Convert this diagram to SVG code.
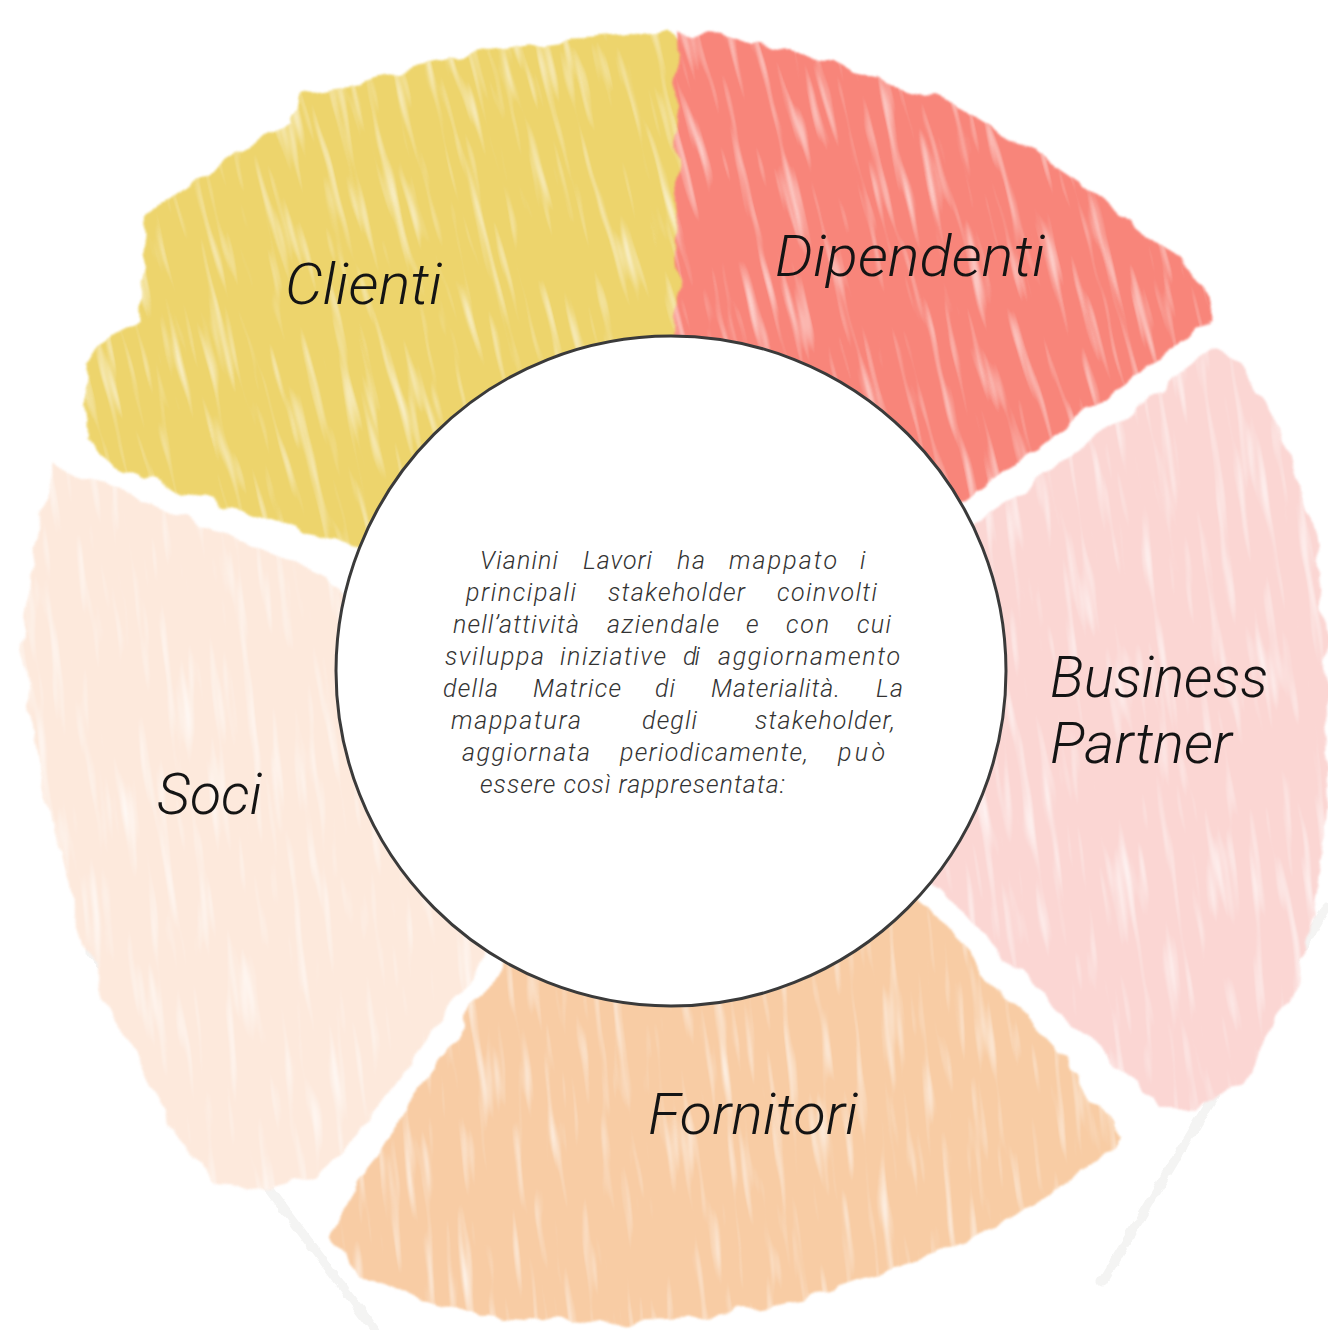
<svg xmlns="http://www.w3.org/2000/svg" width="1328" height="1330" viewBox="0 0 1328 1330">
<defs>
<filter id="crayon" x="-15%" y="-15%" width="130%" height="130%" color-interpolation-filters="sRGB">
  <feTurbulence type="fractalNoise" baseFrequency="0.035" numOctaves="2" seed="2" result="warp"/>
  <feDisplacementMap in="SourceGraphic" in2="warp" scale="18" xChannelSelector="R" yChannelSelector="G" result="r0"/>
  <feGaussianBlur in="r0" stdDeviation="0.9" result="rough"/>
  <feTurbulence type="fractalNoise" baseFrequency="0.09 0.01" numOctaves="2" seed="5" result="streak"/>
  <feColorMatrix in="streak" type="matrix" values="0 0 0 0 1  0 0 0 0 1  0 0 0 0 1  -1.9 0 0 0 0.86" result="light"/>
  <feComposite in="light" in2="rough" operator="in" result="lightIn"/>
  <feMerge><feMergeNode in="rough"/><feMergeNode in="lightIn"/></feMerge>
</filter>
<filter id="rough" x="-10%" y="-10%" width="120%" height="120%">
  <feTurbulence type="fractalNoise" baseFrequency="0.08" numOctaves="2" seed="7" result="w"/>
  <feDisplacementMap in="SourceGraphic" in2="w" scale="8" xChannelSelector="R" yChannelSelector="G"/>
</filter>
</defs>
<style>
.seg{filter:url(#crayon)}
.label{font-family:Roboto,"Liberation Sans",sans-serif;font-weight:300;font-style:italic;font-size:58px;fill:#141414}
.body{font-family:Roboto,"Liberation Sans",sans-serif;font-weight:300;font-style:italic;font-size:25px;fill:#333}
.edge{fill:none;stroke:#f4f4f3;stroke-width:9;stroke-linecap:round;filter:url(#rough)}
</style>
<rect width="1328" height="1330" fill="#fff"/>
<path class="edge" d="M90,950 L375,1330"/>
<path class="edge" d="M1326,908 L1102,1282"/>

<g id="clienti">
<g class="seg" transform="rotate(-14 671 671)"><path transform="rotate(14 671 671)" fill="#edd46c" d="M85,360 L100,345 L140,320 L148,215 L190,185 L235,150 L290,125 L300,95 L360,85 L420,65 L490,50 L560,40 L620,35 L668,30 L681,40 L681,671 L671,671 L358,548 L300,528 L240,510 L175,490 L120,470 L88,440 Z"/></g>
<text class="label" x="285" y="304" textLength="157" lengthAdjust="spacingAndGlyphs">Clienti</text>
</g>

<g id="dipendenti">
<g class="seg" transform="rotate(-14 671 671)"><path transform="rotate(14 671 671)" fill="#f8857a" d="M677,30 L720,35 L800,52 L880,78 L960,108 L1040,155 L1100,195 L1160,245 L1205,285 L1212,318 L1150,365 L1080,415 L1030,455 L968,500 L671,671 L679,671 Z"/></g>
<text class="label" x="775" y="276" textLength="270" lengthAdjust="spacingAndGlyphs">Dipendenti</text>
</g>

<g id="business-partner">
<g class="seg" transform="rotate(-8 671 671)"><path transform="rotate(8 671 671)" fill="#fbd6d3" d="M988,518 L1050,472 L1120,422 L1180,377 L1215,347 L1255,382 L1290,452 L1315,540 L1326,640 L1328,760 L1322,860 L1305,950 L1280,1020 L1240,1080 L1195,1110 L1165,1108 L1100,1050 L1030,985 L948,895 L671,671 Z"/></g>
<text class="label" x="1050" y="697" textLength="218" lengthAdjust="spacingAndGlyphs">Business</text>
<text class="label" x="1050" y="763" textLength="182" lengthAdjust="spacingAndGlyphs">Partner</text>
</g>

<g id="fornitori">
<g class="seg" transform="rotate(-6 671 671)"><path transform="rotate(6 671 671)" fill="#f8cca4" d="M928,908 L995,985 L1060,1055 L1120,1135 L1100,1160 L1040,1200 L970,1240 L890,1270 L800,1300 L700,1318 L600,1324 L500,1318 L420,1300 L360,1272 L330,1240 L360,1180 L410,1100 L460,1030 L500,968 L671,671 Z"/></g>
<text class="label" x="648" y="1134" textLength="210" lengthAdjust="spacingAndGlyphs">Fornitori</text>
</g>

<g id="soci">
<g class="seg" transform="rotate(-6 671 671)"><path transform="rotate(6 671 671)" fill="#fde9dc" d="M55,465 L120,488 L175,515 L240,540 L300,565 L344,592 L671,671 L486,958 L440,1020 L395,1085 L350,1145 L320,1175 L260,1190 L215,1185 L175,1130 L140,1070 L105,1000 L85,950 L60,860 L38,760 L22,650 L30,560 L45,500 Z"/></g>
<text class="label" x="157" y="814" textLength="105" lengthAdjust="spacingAndGlyphs">Soci</text>
</g>

<g id="center">
<circle cx="671" cy="671" r="335" fill="#fff" stroke="#3a3a3a" stroke-width="3"/>
<text class="body" y="569"><tspan x="480" textLength="78" lengthAdjust="spacing">Vianini</tspan><tspan x="583" textLength="69" lengthAdjust="spacing">Lavori</tspan><tspan x="677" textLength="28" lengthAdjust="spacing">ha</tspan><tspan x="729" textLength="108" lengthAdjust="spacing">mappato</tspan><tspan x="860">i</tspan></text>
<text class="body" y="601"><tspan x="466" textLength="110" lengthAdjust="spacing">principali</tspan><tspan x="608" textLength="137" lengthAdjust="spacing">stakeholder</tspan><tspan x="777" textLength="100" lengthAdjust="spacing">coinvolti</tspan></text>
<text class="body" y="633"><tspan x="453" textLength="126" lengthAdjust="spacing">nell’attività</tspan><tspan x="607" textLength="112" lengthAdjust="spacing">aziendale</tspan><tspan x="746">e</tspan><tspan x="786" textLength="43" lengthAdjust="spacing">con</tspan><tspan x="857" textLength="34" lengthAdjust="spacing">cui</tspan></text>
<text class="body" y="665"><tspan x="445" textLength="99" lengthAdjust="spacing">sviluppa</tspan><tspan x="560" textLength="106" lengthAdjust="spacing">iniziative</tspan><tspan x="683" textLength="17" lengthAdjust="spacing">di</tspan><tspan x="718" textLength="182" lengthAdjust="spacing">aggiornamento</tspan></text>
<text class="body" y="697"><tspan x="443" textLength="55" lengthAdjust="spacing">della</tspan><tspan x="533" textLength="88" lengthAdjust="spacing">Matrice</tspan><tspan x="655" textLength="20" lengthAdjust="spacing">di</tspan><tspan x="711" textLength="129" lengthAdjust="spacing">Materialità.</tspan><tspan x="876" textLength="27" lengthAdjust="spacing">La</tspan></text>
<text class="body" y="729"><tspan x="451" textLength="130" lengthAdjust="spacing">mappatura</tspan><tspan x="642" textLength="55" lengthAdjust="spacing">degli</tspan><tspan x="755" textLength="140" lengthAdjust="spacing">stakeholder,</tspan></text>
<text class="body" y="761"><tspan x="462" textLength="128" lengthAdjust="spacing">aggiornata</tspan><tspan x="620" textLength="188" lengthAdjust="spacing">periodicamente,</tspan><tspan x="838" textLength="47" lengthAdjust="spacing">può</tspan></text>
<text class="body" y="793" x="480" textLength="305" lengthAdjust="spacing">essere così rappresentata:</text>
</g>

<g id="connectors"/>
</svg>
